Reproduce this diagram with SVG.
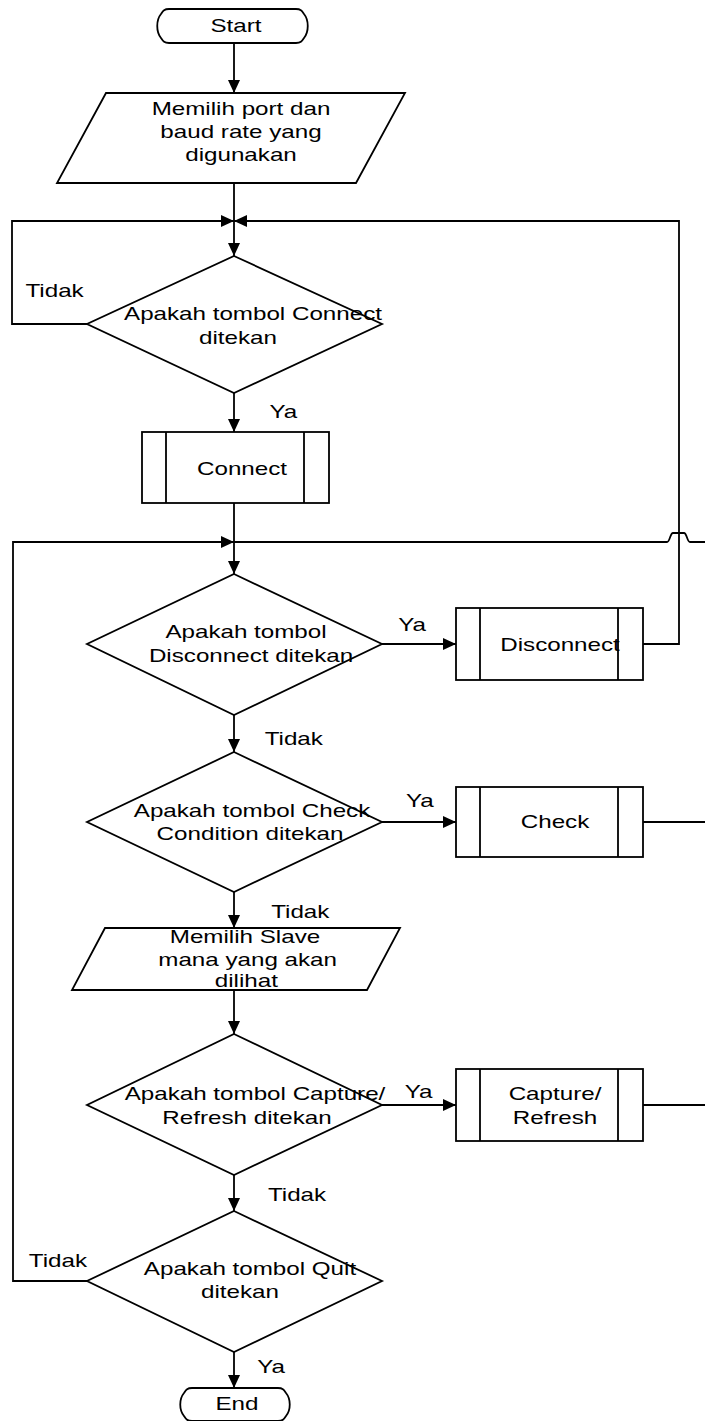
<svg xmlns="http://www.w3.org/2000/svg" width="705" height="1421" viewBox="0 0 705 1421">
<style>
.s{fill:#fff;stroke:#000;stroke-width:1.8}
.c{fill:none;stroke:#000;stroke-width:1.8}
.t{font-family:"Liberation Sans",Arial,sans-serif;font-size:18.6px;fill:#000;text-anchor:middle}
</style>
<defs>
<marker id="a" markerUnits="userSpaceOnUse" markerWidth="13" markerHeight="12" refX="13" refY="6" orient="auto">
<path d="M0,0 L13,6 L0,12 Z" fill="#000"/>
</marker>
</defs>
<rect width="705" height="1421" fill="#fff"/>
<g id="connectors">
<path class="c" d="M234,43 V93" marker-end="url(#a)"/>
<path class="c" d="M234,183 V256" marker-end="url(#a)"/>
<path class="c" d="M87,324 H12 V221 H234" marker-end="url(#a)"/>
<path class="c" d="M643,644 H679 V221 H234" marker-end="url(#a)"/>
<path class="c" d="M234,393 V432" marker-end="url(#a)"/>
<path class="c" d="M234,503 V574" marker-end="url(#a)"/>
<path class="c" d="M87,1281 H13 V542 H234" marker-end="url(#a)"/>
<path class="c" d="M705,542 H690 C687,542 687,533 684,533 H673 C670,533 670,542 667,542 H234"/>
<path class="c" d="M643,822 H705"/>
<path class="c" d="M643,1105 H705"/>
<path class="c" d="M382,644 H456" marker-end="url(#a)"/>
<path class="c" d="M382,822 H456" marker-end="url(#a)"/>
<path class="c" d="M382,1105 H456" marker-end="url(#a)"/>
<path class="c" d="M234,715 V752" marker-end="url(#a)"/>
<path class="c" d="M234,892 V928" marker-end="url(#a)"/>
<path class="c" d="M234,990 V1034" marker-end="url(#a)"/>
<path class="c" d="M234,1175 V1211" marker-end="url(#a)"/>
<path class="c" d="M234,1352 V1388" marker-end="url(#a)"/>
<g transform="scale(1.3,1)">
<text class="t" x="42" y="297">Tidak</text>
<text class="t" x="218" y="418">Ya</text>
<text class="t" x="317" y="631">Ya</text>
<text class="t" x="226" y="745">Tidak</text>
<text class="t" x="323" y="807">Ya</text>
<text class="t" x="231" y="918">Tidak</text>
<text class="t" x="322" y="1098">Ya</text>
<text class="t" x="228.5" y="1201">Tidak</text>
<text class="t" x="44.6" y="1267">Tidak</text>
<text class="t" x="208.5" y="1373">Ya</text>
</g>
</g>
<g id="start">
<path class="s" d="M169,9 H296 C301,9 302,11 304,14 C309,20 309,32 304,38 C302,41 301,43 296,43 H169 C164,43 163,41 161,38 C156,32 156,20 161,14 C163,11 164,9 169,9 Z"/>
<text class="t" transform="translate(236,32) scale(1.3,1)">Start</text>
</g>
<g id="input1">
<path class="s" d="M106,93 H405 L356,183 H57 Z"/>
<text class="t" transform="translate(241,0) scale(1.3,1)"><tspan x="0" y="115">Memilih port dan</tspan><tspan x="0" y="138">baud rate yang</tspan><tspan x="0" y="161">digunakan</tspan></text>
</g>
<g id="dec-connect">
<path class="s" d="M234,256 L382,324 L234,393 L87,324 Z"/>
<text class="t" transform="translate(253,320) scale(1.3,1)">Apakah tombol Connect</text>
<text class="t" transform="translate(238,344) scale(1.3,1)">ditekan</text>
</g>
<g id="connect">
<rect class="s" x="142" y="432" width="187" height="71"/>
<path class="c" d="M166,432 V503 M304,432 V503"/>
<text class="t" transform="translate(242,475) scale(1.3,1)">Connect</text>
</g>
<g id="dec-disconnect">
<path class="s" d="M234,574 L382,644 L234,715 L87,644 Z"/>
<text class="t" transform="translate(246,638) scale(1.3,1)">Apakah tombol</text>
<text class="t" transform="translate(251,662) scale(1.3,1)">Disconnect ditekan</text>
</g>
<g id="disconnect">
<rect class="s" x="456" y="608" width="187" height="72"/>
<path class="c" d="M480,608 V680 M618,608 V680"/>
<text class="t" transform="translate(560,651) scale(1.3,1)">Disconnect</text>
</g>
<g id="dec-check">
<path class="s" d="M234,752 L382,822 L234,892 L87,822 Z"/>
<text class="t" transform="translate(252,817) scale(1.3,1)">Apakah tombol Check</text>
<text class="t" transform="translate(250,840) scale(1.3,1)">Condition ditekan</text>
</g>
<g id="check">
<rect class="s" x="456" y="787" width="187" height="70"/>
<path class="c" d="M480,787 V857 M618,787 V857"/>
<text class="t" transform="translate(555,828) scale(1.3,1)">Check</text>
</g>
<g id="input2">
<path class="s" d="M105,928 H400 L367,990 H72 Z"/>
<text class="t" transform="translate(245,0) scale(1.3,1)"><tspan x="0" y="943">Memilih Slave</tspan><tspan x="2" y="966">mana yang akan</tspan><tspan x="1" y="987">dilihat</tspan></text>
</g>
<g id="dec-capture">
<path class="s" d="M234,1034 L382,1105 L234,1175 L87,1105 Z"/>
<text class="t" transform="translate(255,1100) scale(1.3,1)">Apakah tombol Capture/</text>
<text class="t" transform="translate(247,1124) scale(1.3,1)">Refresh ditekan</text>
</g>
<g id="capture">
<rect class="s" x="456" y="1069" width="187" height="72"/>
<path class="c" d="M480,1069 V1141 M618,1069 V1141"/>
<text class="t" transform="translate(555,1100) scale(1.3,1)">Capture/</text>
<text class="t" transform="translate(555,1124) scale(1.3,1)">Refresh</text>
</g>
<g id="dec-quit">
<path class="s" d="M234,1211 L382,1281 L234,1352 L87,1281 Z"/>
<text class="t" transform="translate(250,1275) scale(1.3,1)">Apakah tombol Quit</text>
<text class="t" transform="translate(240,1298) scale(1.3,1)">ditekan</text>
</g>
<g id="end">
<path class="s" d="M192,1388 H278 C283,1388 284,1390 286,1393 C291,1399 291,1410 286,1416 C284,1419 283,1421 278,1421 H192 C187,1421 186,1419 184,1416 C179,1410 179,1399 184,1393 C186,1390 187,1388 192,1388 Z"/>
<text class="t" transform="translate(237,1410) scale(1.3,1)">End</text>
</g>
</svg>
